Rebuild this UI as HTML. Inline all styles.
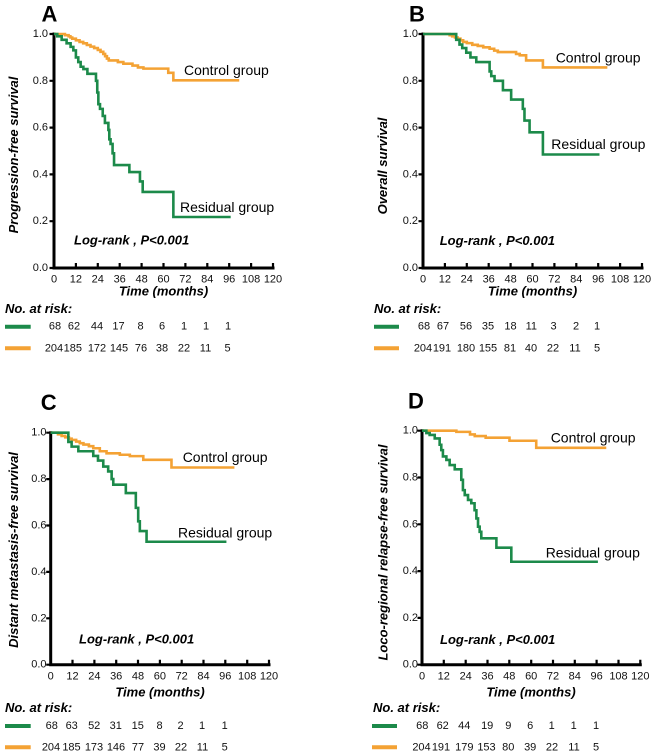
<!DOCTYPE html>
<html><head><meta charset="utf-8"><style>
html,body{margin:0;padding:0;background:#fff;}
svg{display:block;}
text{font-family:"Liberation Sans",Arial,sans-serif;}
.lt{font-size:22px;font-weight:bold;}
.yl{font-size:13px;font-weight:bold;font-style:italic;}
.bi{font-size:13px;font-weight:bold;font-style:italic;}
.tk{font-size:11px;fill:#111;}
.gr{font-size:14px;}
.nr{font-size:11px;fill:#111;}
.ax{fill:none;stroke:#000;stroke-width:3;stroke-linecap:square;}
.tm{fill:none;stroke:#000;stroke-width:2.2;}
.g{fill:none;stroke:#1c8a4a;stroke-width:2.6;}
.o{fill:none;stroke:#f4a234;stroke-width:2.6;}
</style></head><body>
<svg width="653" height="755" viewBox="0 0 653 755" xmlns="http://www.w3.org/2000/svg">

<!-- ============ PANEL A ============ -->
<text class="lt" x="41.5" y="21.5">A</text>
<text class="yl" transform="translate(13.5,155) rotate(-90)" text-anchor="middle" dominant-baseline="central">Progression-free survival</text>
<path class="ax" d="M54,34 V268 H273"/>
<path class="tm" d="M49.5,268H54M49.5,221.2H54M49.5,174.4H54M49.5,127.6H54M49.5,80.8H54M49.5,34H54
M75.9,268V263M97.8,268V263M119.7,268V263M141.6,268V263M163.5,268V263M185.4,268V263M207.3,268V263M229.2,268V263M251.1,268V263M273,268V263"/>
<g class="tk" text-anchor="end" dominant-baseline="central">
<text x="48" y="268">0.0</text><text x="48" y="221.2">0.2</text><text x="48" y="174.4">0.4</text><text x="48" y="127.6">0.6</text><text x="48" y="80.8">0.8</text><text x="48" y="34">1.0</text>
</g>
<g class="tk" text-anchor="middle" dominant-baseline="central">
<text x="54" y="279.5">0</text><text x="75.9" y="279.5">12</text><text x="97.8" y="279.5">24</text><text x="119.7" y="279.5">36</text><text x="141.6" y="279.5">48</text><text x="163.5" y="279.5">60</text><text x="185.4" y="279.5">72</text><text x="207.3" y="279.5">84</text><text x="229.2" y="279.5">96</text><text x="251.1" y="279.5">108</text><text x="273" y="279.5">120</text>
</g>
<text class="bi" x="163.5" y="291" text-anchor="middle" dominant-baseline="central">Time (months)</text>
<g transform="translate(54,268) scale(1.825,-2.34)">
<polyline class="o" vector-effect="non-scaling-stroke" points="0,100 6,100 6,99.5 8,99.5 8,99 9,99 9,98.5 10,98.5 10,98 12,98 12,97.3 14,97.3 14,96.6 16,96.6 16,96 18,96 18,95.3 20,95.3 20,94.6 22,94.6 22,94 24,94 24,93.2 25.5,93.2 25.5,92.4 27,92.4 27,91.5 28,91.5 28,90.5 29,90.5 29,89.5 30,89.5 30,88.7 35,88.7 35,88 38,88 38,87.3 43,87.3 43,86.5 46,86.5 46,85.7 49,85.7 49,85.2 62.6,85.2 62.6,83.4 65.4,83.4 65.4,80.2 101.5,80.2"/>
<polyline class="g" vector-effect="non-scaling-stroke" points="0,100 1.8,100 1.8,99 4.2,99 4.2,97.5 6.9,97.5 6.9,96 9.1,96 9.1,94.5 10.6,94.5 10.6,93 12,93 12,90 13.3,90 13.3,88 14.6,88 14.6,86 16.1,86 16.1,85 18.3,85 18.3,83 23,83 23,80 23.7,80 23.7,75 24.3,75 24.3,70 25.2,70 25.2,68 26.7,68 26.7,65 27.9,65 27.9,62 29.8,62 29.8,59 30.3,59 30.3,55 31,55 31,53 32.1,53 32.1,49 32.9,49 32.9,44 41.3,44 41.3,41 47.1,41 47.1,37 48.6,37 48.6,32.5 65.4,32.5 65.4,21.8 96.8,21.8"/>
</g>
<text class="gr" x="184" y="70" dominant-baseline="central">Control group</text>
<text class="gr" x="180" y="207" dominant-baseline="central">Residual group</text>
<text class="bi" x="74" y="240" dominant-baseline="central">Log-rank , P&lt;0.001</text>
<text class="bi" x="5" y="308.3" dominant-baseline="central">No. at risk:</text>
<line x1="5" y1="326.7" x2="30.7" y2="326.7" stroke="#1c8a4a" stroke-width="4"/>
<line x1="5" y1="348.3" x2="30.7" y2="348.3" stroke="#f4a234" stroke-width="4"/>
<g class="nr" text-anchor="middle" dominant-baseline="central">
<text x="55" y="326.7">68</text><text x="74" y="326.7">62</text><text x="97" y="326.7">44</text><text x="118.5" y="326.7">17</text><text x="140.5" y="326.7">8</text><text x="162" y="326.7">6</text><text x="184" y="326.7">1</text><text x="206" y="326.7">1</text><text x="228" y="326.7">1</text>
<text x="54" y="348.3">204</text><text x="72.8" y="348.3">185</text><text x="97" y="348.3">172</text><text x="119" y="348.3">145</text><text x="141" y="348.3">76</text><text x="162" y="348.3">38</text><text x="184" y="348.3">22</text><text x="205.5" y="348.3">11</text><text x="227.5" y="348.3">5</text>
</g>

<!-- ============ PANEL B ============ -->
<text class="lt" x="409" y="21.7">B</text>
<text class="yl" transform="translate(382.5,166) rotate(-90)" text-anchor="middle" dominant-baseline="central">Overall survival</text>
<path class="ax" d="M423,34 V268 H642"/>
<path class="tm" d="M418.5,268H423M418.5,221.2H423M418.5,174.4H423M418.5,127.6H423M418.5,80.8H423M418.5,34H423
M444.9,268V263M466.8,268V263M488.7,268V263M510.6,268V263M532.5,268V263M554.4,268V263M576.3,268V263M598.2,268V263M620.1,268V263M642,268V263"/>
<g class="tk" text-anchor="end" dominant-baseline="central">
<text x="418" y="268">0.0</text><text x="418" y="221.2">0.2</text><text x="418" y="174.4">0.4</text><text x="418" y="127.6">0.6</text><text x="418" y="80.8">0.8</text><text x="418" y="34">1.0</text>
</g>
<g class="tk" text-anchor="middle" dominant-baseline="central">
<text x="423" y="279.5">0</text><text x="444.9" y="279.5">12</text><text x="466.8" y="279.5">24</text><text x="488.7" y="279.5">36</text><text x="510.6" y="279.5">48</text><text x="532.5" y="279.5">60</text><text x="554.4" y="279.5">72</text><text x="576.3" y="279.5">84</text><text x="598.2" y="279.5">96</text><text x="620.1" y="279.5">108</text><text x="642" y="279.5">120</text>
</g>
<text class="bi" x="532.5" y="291" text-anchor="middle" dominant-baseline="central">Time (months)</text>
<g transform="translate(423,268) scale(1.825,-2.34)">
<polyline class="o" vector-effect="non-scaling-stroke" points="0,100 14.6,100 14.6,99.5 16,99.5 16,99 17.5,99 17.5,98.5 19,98.5 19,98 20.5,98 20.5,97.3 22,97.3 22,96.6 24,96.6 24,96.1 27,96.1 27,95.4 30,95.4 30,94.9 33,94.9 33,94.3 36.5,94.3 36.5,93.7 39,93.7 39,92.9 41,92.9 41,92.3 51,92.3 51,91.5 53,91.5 53,90.9 56.5,90.9 56.5,88.7 65.7,88.7 65.7,85.7 101,85.7"/>
<polyline class="g" vector-effect="non-scaling-stroke" points="0,100 18.2,100 18.2,97.5 20,97.5 20,95.5 21.5,95.5 21.5,94 23.7,94 23.7,92 26,92 26,90 29.2,90 29.2,88 36.5,88 36.5,84 37.4,84 37.4,82 39.2,82 39.2,80 43.8,80 43.8,76 48.3,76 48.3,72 54.7,72 54.7,68 55.6,68 55.6,63 58.4,63 58.4,58 65.7,58 65.7,48.5 96.7,48.5"/>
</g>
<text class="gr" x="555.7" y="57.3" dominant-baseline="central">Control group</text>
<text class="gr" x="551.3" y="144" dominant-baseline="central">Residual group</text>
<text class="bi" x="439.7" y="240.7" dominant-baseline="central">Log-rank , P&lt;0.001</text>
<text class="bi" x="374" y="308.3" dominant-baseline="central">No. at risk:</text>
<line x1="374" y1="326.7" x2="399" y2="326.7" stroke="#1c8a4a" stroke-width="4"/>
<line x1="374" y1="348.3" x2="399" y2="348.3" stroke="#f4a234" stroke-width="4"/>
<g class="nr" text-anchor="middle" dominant-baseline="central">
<text x="424" y="326.7">68</text><text x="443" y="326.7">67</text><text x="466" y="326.7">56</text><text x="488" y="326.7">35</text><text x="510.5" y="326.7">18</text><text x="531.3" y="326.7">11</text><text x="553.5" y="326.7">3</text><text x="576" y="326.7">2</text><text x="597" y="326.7">1</text>
<text x="423" y="348.3">204</text><text x="442" y="348.3">191</text><text x="466" y="348.3">180</text><text x="488" y="348.3">155</text><text x="510" y="348.3">81</text><text x="531" y="348.3">40</text><text x="553" y="348.3">22</text><text x="575" y="348.3">11</text><text x="597" y="348.3">5</text>
</g>

<!-- ============ PANEL C ============ -->
<text class="lt" x="40.7" y="410">C</text>
<text class="yl" transform="translate(13.5,550) rotate(-90)" text-anchor="middle" dominant-baseline="central">Distant metastasis-free survival</text>
<path class="ax" d="M50.7,432.7 V664.7 H269"/>
<path class="tm" d="M46.2,664.7H50.7M46.2,618.3H50.7M46.2,571.9H50.7M46.2,525.5H50.7M46.2,479.1H50.7M46.2,432.7H50.7
M72.5,664.7V659.7M94.4,664.7V659.7M116.2,664.7V659.7M138,664.7V659.7M159.9,664.7V659.7M181.7,664.7V659.7M203.5,664.7V659.7M225.3,664.7V659.7M247.2,664.7V659.7M269,664.7V659.7"/>
<g class="tk" text-anchor="end" dominant-baseline="central">
<text x="46.5" y="664.7">0.0</text><text x="46.5" y="618.3">0.2</text><text x="46.5" y="571.9">0.4</text><text x="46.5" y="525.5">0.6</text><text x="46.5" y="479.1">0.8</text><text x="46.5" y="432.7">1.0</text>
</g>
<g class="tk" text-anchor="middle" dominant-baseline="central">
<text x="50.7" y="676.7">0</text><text x="72.5" y="676.7">12</text><text x="94.4" y="676.7">24</text><text x="116.2" y="676.7">36</text><text x="138" y="676.7">48</text><text x="159.9" y="676.7">60</text><text x="181.7" y="676.7">72</text><text x="203.5" y="676.7">84</text><text x="225.3" y="676.7">96</text><text x="247.2" y="676.7">108</text><text x="269" y="676.7">120</text>
</g>
<text class="bi" x="160" y="692" text-anchor="middle" dominant-baseline="central">Time (months)</text>
<g transform="translate(50.7,664.7) scale(1.819,-2.32)">
<polyline class="o" vector-effect="non-scaling-stroke" points="0,100 4,100 4,99.3 6,99.3 6,98.6 8,98.6 8,98 10,98 10,97.4 11.5,97.4 11.5,96.9 14,96.9 14,96.2 16,96.2 16,95.5 18,95.5 18,94.9 21,94.9 21,94.2 23.4,94.2 23.4,93.3 27,93.3 27,92 30.7,92 30.7,91.1 38,91.1 38,90.5 43.5,90.5 43.5,89.9 50.9,89.9 50.9,88.3 66.4,88.3 66.4,85 101,85"/>
<polyline class="g" vector-effect="non-scaling-stroke" points="0,100 9.7,100 9.7,96 11.5,96 11.5,94 15.2,94 15.2,92 23.4,92 23.4,90 26,90 26,88 28.9,88 28.9,85.4 31.6,85.4 31.6,83.3 33.5,83.3 33.5,80 34.4,80 34.4,77.6 41.3,77.6 41.3,74 46.8,74 46.8,67.6 48.1,67.6 48.1,61.8 49,61.8 49,57.6 52.7,57.6 52.7,53 96.6,53"/>
</g>
<text class="gr" x="182.7" y="457" dominant-baseline="central">Control group</text>
<text class="gr" x="178" y="532.7" dominant-baseline="central">Residual group</text>
<text class="bi" x="79" y="639" dominant-baseline="central">Log-rank , P&lt;0.001</text>
<text class="bi" x="5" y="707.7" dominant-baseline="central">No. at risk:</text>
<line x1="5" y1="726" x2="30.7" y2="726" stroke="#1c8a4a" stroke-width="4"/>
<line x1="5" y1="747.3" x2="30.7" y2="747.3" stroke="#f4a234" stroke-width="4"/>
<g class="nr" text-anchor="middle" dominant-baseline="central">
<text x="51.8" y="726">68</text><text x="71.7" y="726">63</text><text x="94.2" y="726">52</text><text x="115.8" y="726">31</text><text x="137.8" y="726">15</text><text x="159.5" y="726">8</text><text x="180.5" y="726">2</text><text x="202" y="726">1</text><text x="224.7" y="726">1</text>
<text x="51" y="747.3">204</text><text x="71.5" y="747.3">185</text><text x="94" y="747.3">173</text><text x="116" y="747.3">146</text><text x="138" y="747.3">77</text><text x="159.5" y="747.3">39</text><text x="181" y="747.3">22</text><text x="202.5" y="747.3">11</text><text x="224.7" y="747.3">5</text>
</g>

<!-- ============ PANEL D ============ -->
<text class="lt" x="408" y="408.5">D</text>
<text class="yl" transform="translate(383,552.5) rotate(-90)" text-anchor="middle" dominant-baseline="central">Loco-regional relapse-free survival</text>
<path class="ax" d="M422,430.7 V664.7 H640.3"/>
<path class="tm" d="M417.5,664.7H422M417.5,617.9H422M417.5,571.1H422M417.5,524.3H422M417.5,477.5H422M417.5,430.7H422
M443.8,664.7V659.7M465.7,664.7V659.7M487.5,664.7V659.7M509.3,664.7V659.7M531.2,664.7V659.7M553,664.7V659.7M574.8,664.7V659.7M596.6,664.7V659.7M618.5,664.7V659.7M640.3,664.7V659.7"/>
<g class="tk" text-anchor="end" dominant-baseline="central">
<text x="418" y="664.7">0.0</text><text x="418" y="617.9">0.2</text><text x="418" y="571.1">0.4</text><text x="418" y="524.3">0.6</text><text x="418" y="477.5">0.8</text><text x="418" y="430.7">1.0</text>
</g>
<g class="tk" text-anchor="middle" dominant-baseline="central">
<text x="422" y="676.7">0</text><text x="443.8" y="676.7">12</text><text x="465.7" y="676.7">24</text><text x="487.5" y="676.7">36</text><text x="509.3" y="676.7">48</text><text x="531.2" y="676.7">60</text><text x="553" y="676.7">72</text><text x="574.8" y="676.7">84</text><text x="596.6" y="676.7">96</text><text x="618.5" y="676.7">108</text><text x="640.3" y="676.7">120</text>
</g>
<text class="bi" x="531" y="692" text-anchor="middle" dominant-baseline="central">Time (months)</text>
<g transform="translate(422,664.7) scale(1.819,-2.34)">
<polyline class="o" vector-effect="non-scaling-stroke" points="0,100 18.9,100 18.9,99.5 26.4,99.5 26.4,98.4 29,98.4 29,97.7 35,97.7 35,97 48.1,97 48.1,95.7 62.8,95.7 62.8,92.7 101.3,92.7"/>
<polyline class="g" vector-effect="non-scaling-stroke" points="0,100 2.4,100 2.4,99 4.2,99 4.2,98.2 7,98.2 7,96.7 9.7,96.7 9.7,94 10.6,94 10.6,91.7 11.5,91.7 11.5,89 13.4,89 13.4,87.5 15.2,87.5 15.2,85.3 18,85.3 18,83.5 21.6,83.5 21.6,79 22.5,79 22.5,74.6 23.5,74.6 23.5,72.5 25.3,72.5 25.3,70.4 27.1,70.4 27.1,69 28.9,69 28.9,66 29.9,66 29.9,62.5 30.8,62.5 30.8,59 31.7,59 31.7,56.8 32.6,56.8 32.6,54 40.9,54 40.9,50 49.1,50 49.1,44 96.7,44"/>
</g>
<text class="gr" x="550.7" y="437.7" dominant-baseline="central">Control group</text>
<text class="gr" x="545.7" y="552.7" dominant-baseline="central">Residual group</text>
<text class="bi" x="440" y="639.3" dominant-baseline="central">Log-rank , P&lt;0.001</text>
<text class="bi" x="373" y="707.7" dominant-baseline="central">No. at risk:</text>
<line x1="372" y1="726" x2="397" y2="726" stroke="#1c8a4a" stroke-width="4"/>
<line x1="372" y1="747.3" x2="397" y2="747.3" stroke="#f4a234" stroke-width="4"/>
<g class="nr" text-anchor="middle" dominant-baseline="central">
<text x="422.3" y="726">68</text><text x="442.7" y="726">62</text><text x="464.3" y="726">44</text><text x="487.2" y="726">19</text><text x="508.3" y="726">9</text><text x="530.2" y="726">6</text><text x="551.7" y="726">1</text><text x="573.7" y="726">1</text><text x="596" y="726">1</text>
<text x="421.5" y="747.3">204</text><text x="441" y="747.3">191</text><text x="464.3" y="747.3">179</text><text x="486.5" y="747.3">153</text><text x="508.3" y="747.3">80</text><text x="530.2" y="747.3">39</text><text x="552" y="747.3">22</text><text x="574" y="747.3">11</text><text x="596" y="747.3">5</text>
</g>

</svg>
</body></html>
